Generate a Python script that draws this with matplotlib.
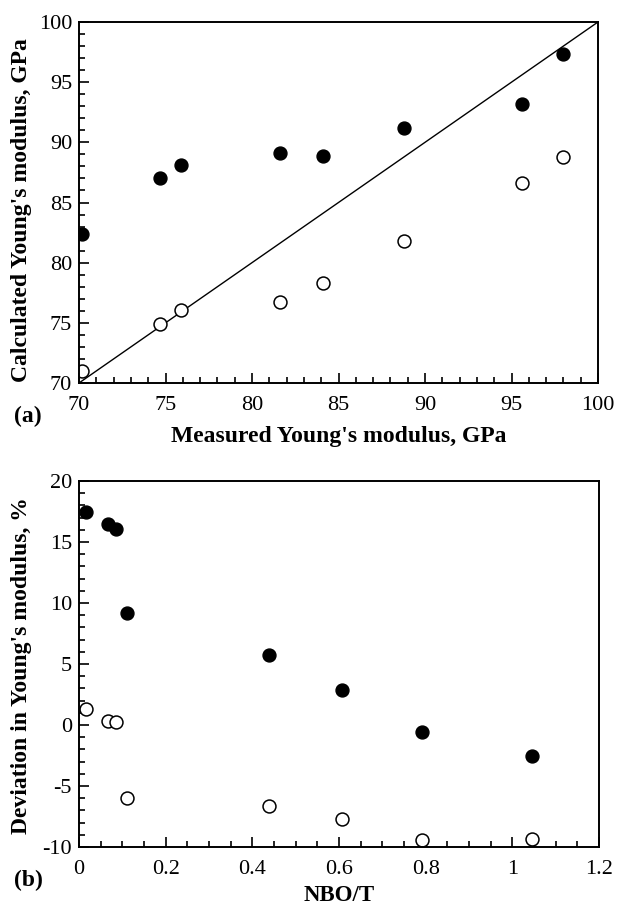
import matplotlib
matplotlib.use("Agg")
import matplotlib.pyplot as plt
from matplotlib.ticker import MultipleLocator

plt.rcParams['font.family'] = ['Liberation Serif', 'DejaVu Serif']
plt.rcParams['axes.unicode_minus'] = False

# panel (a): measured vs calculated Young's modulus, GPa
measured = [70.2, 74.7, 75.9, 81.6, 84.1, 88.8, 95.6, 98.0]
calc_filled = [82.4, 87.0, 88.1, 89.1, 88.9, 91.2, 93.2, 97.3]
calc_open = [71.0, 74.9, 76.1, 76.7, 78.3, 81.8, 86.6, 88.8]

# panel (b): deviation vs NBO/T
nbo_t = [0.015, 0.066, 0.085, 0.111, 0.439, 0.607, 0.792, 1.045]
dev_filled = [17.5, 16.5, 16.1, 9.2, 5.7, 2.9, -0.6, -2.5]
dev_open = [1.3, 0.35, 0.25, -6.0, -6.6, -7.7, -9.4, -9.35]

W, H = 619, 906
fig = plt.figure(figsize=(W / 100, H / 100), dpi=100)

def px_axes(l, t, r, b):
    return fig.add_axes([l / W, 1 - b / H, (r - l) / W, (b - t) / H])

ax1 = px_axes(79, 22, 598, 383)
ax2 = px_axes(79, 481, 599, 847)

ms = 9.3
for ax in (ax1, ax2):
    for s in ax.spines.values():
        s.set_linewidth(1.4)
    ax.tick_params(which='both', direction='in', top=False, right=False,
                   labelsize=16, width=1.2)
    ax.tick_params(which='major', length=7)
    ax.tick_params(which='minor', length=4)
    ax.tick_params(axis='x', pad=9)
    ax.tick_params(axis='y', pad=5)

# (a)
ax1.plot([70, 100], [70, 100], color='black', lw=1.0)
ax1.plot(measured, calc_filled, 'o', color='black', ms=ms)
ax1.plot(measured, calc_open, 'o', mfc='white', mec='black', mew=1.1, ms=ms)
ax1.set_xlim(70, 100)
ax1.set_ylim(70, 100)
ax1.xaxis.set_major_locator(MultipleLocator(5))
ax1.xaxis.set_minor_locator(MultipleLocator(1))
ax1.yaxis.set_major_locator(MultipleLocator(5))
ax1.yaxis.set_minor_locator(MultipleLocator(1))
ax1.set_xlabel("Measured Young's modulus, GPa", fontsize=17, fontweight='bold')
ax1.set_ylabel("Calculated Young's modulus, GPa", fontsize=17, fontweight='bold')
ax1.xaxis.set_label_coords(0.5, -0.118)
ax1.yaxis.set_label_coords(-0.09, 0.48)

# (b)
ax2.plot(nbo_t, dev_filled, 'o', color='black', ms=ms, clip_on=False)
ax2.plot(nbo_t, dev_open, 'o', mfc='white', mec='black', mew=1.1, ms=ms, clip_on=False)
ax2.set_xlim(0, 1.2)
ax2.set_ylim(-10, 20)
ax2.xaxis.set_major_locator(MultipleLocator(0.2))
ax2.xaxis.set_minor_locator(MultipleLocator(0.05))
ax2.yaxis.set_major_locator(MultipleLocator(5))
ax2.yaxis.set_minor_locator(MultipleLocator(1))
ax2.set_xticks([0, 0.2, 0.4, 0.6, 0.8, 1.0, 1.2])
ax2.set_xticklabels(['0', '0.2', '0.4', '0.6', '0.8', '1', '1.2'])
ax2.set_xlabel("NBO/T", fontsize=16.5, fontweight='bold')
ax2.set_ylabel("Deviation in Young's modulus, %", fontsize=17, fontweight='bold')
ax2.xaxis.set_label_coords(0.5, -0.105)
ax2.yaxis.set_label_coords(-0.09, 0.495)

fig.text(14 / W, 1 - 416 / H, '(a)', fontsize=17, fontweight='bold', va='center', ha='left')
fig.text(14 / W, 1 - 880 / H, '(b)', fontsize=17, fontweight='bold', va='center', ha='left')

fig.savefig('out.png', dpi=100)
